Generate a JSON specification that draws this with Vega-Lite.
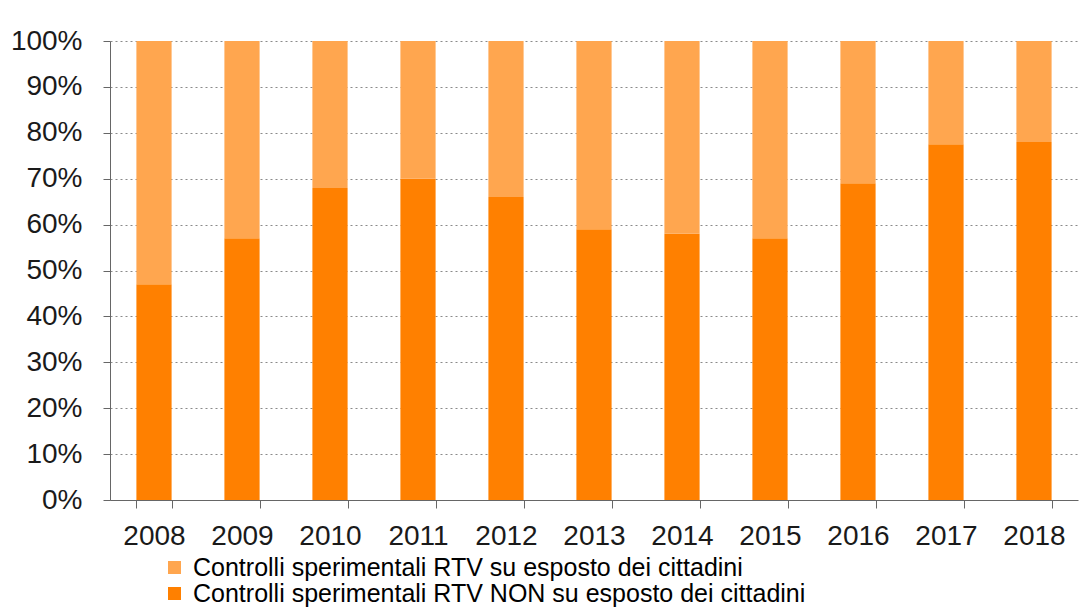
{
  "$schema": "https://vega.github.io/schema/vega-lite/v6.json",
  "width": 968,
  "height": 459,
  "autosize": {"type": "none"},
  "padding": {"left": 110, "top": 41, "right": 10, "bottom": 112},
  "background": "white",
  "data": {
    "values": [
      {"anno": "2008", "serie": "Controlli sperimentali RTV NON su esposto dei cittadini", "quota": 47},
      {"anno": "2008", "serie": "Controlli sperimentali RTV su esposto dei cittadini", "quota": 53},
      {"anno": "2009", "serie": "Controlli sperimentali RTV NON su esposto dei cittadini", "quota": 57},
      {"anno": "2009", "serie": "Controlli sperimentali RTV su esposto dei cittadini", "quota": 43},
      {"anno": "2010", "serie": "Controlli sperimentali RTV NON su esposto dei cittadini", "quota": 68},
      {"anno": "2010", "serie": "Controlli sperimentali RTV su esposto dei cittadini", "quota": 32},
      {"anno": "2011", "serie": "Controlli sperimentali RTV NON su esposto dei cittadini", "quota": 70},
      {"anno": "2011", "serie": "Controlli sperimentali RTV su esposto dei cittadini", "quota": 30},
      {"anno": "2012", "serie": "Controlli sperimentali RTV NON su esposto dei cittadini", "quota": 66},
      {"anno": "2012", "serie": "Controlli sperimentali RTV su esposto dei cittadini", "quota": 34},
      {"anno": "2013", "serie": "Controlli sperimentali RTV NON su esposto dei cittadini", "quota": 59},
      {"anno": "2013", "serie": "Controlli sperimentali RTV su esposto dei cittadini", "quota": 41},
      {"anno": "2014", "serie": "Controlli sperimentali RTV NON su esposto dei cittadini", "quota": 58},
      {"anno": "2014", "serie": "Controlli sperimentali RTV su esposto dei cittadini", "quota": 42},
      {"anno": "2015", "serie": "Controlli sperimentali RTV NON su esposto dei cittadini", "quota": 57},
      {"anno": "2015", "serie": "Controlli sperimentali RTV su esposto dei cittadini", "quota": 43},
      {"anno": "2016", "serie": "Controlli sperimentali RTV NON su esposto dei cittadini", "quota": 69},
      {"anno": "2016", "serie": "Controlli sperimentali RTV su esposto dei cittadini", "quota": 31},
      {"anno": "2017", "serie": "Controlli sperimentali RTV NON su esposto dei cittadini", "quota": 77.5},
      {"anno": "2017", "serie": "Controlli sperimentali RTV su esposto dei cittadini", "quota": 22.5},
      {"anno": "2018", "serie": "Controlli sperimentali RTV NON su esposto dei cittadini", "quota": 78},
      {"anno": "2018", "serie": "Controlli sperimentali RTV su esposto dei cittadini", "quota": 22}
    ]
  },
  "mark": {"type": "bar"},
  "encoding": {
    "x": {
      "field": "anno",
      "type": "ordinal",
      "scale": {"paddingInner": 0.6, "paddingOuter": 0.3},
      "axis": {
        "title": null,
        "labelAngle": 0,
        "tickBand": "extent",
        "tickSize": 8,
        "tickColor": "#666666",
        "domainColor": "#666666",
        "labelFont": "Liberation Sans",
        "labelFontSize": 28,
        "labelColor": "#1a1a1a",
        "labelPadding": 14,
        "grid": false
      }
    },
    "y": {
      "field": "quota",
      "type": "quantitative",
      "stack": "normalize",
      "scale": {"domain": [0, 1]},
      "axis": {
        "title": null,
        "values": [0, 0.1, 0.2, 0.3, 0.4, 0.5, 0.6, 0.7, 0.8, 0.9, 1],
        "format": ".0%",
        "grid": true,
        "gridDash": [2, 3],
        "gridColor": "#8a8a8a",
        "gridWidth": 1,
        "tickSize": 7,
        "tickColor": "#666666",
        "domainColor": "#666666",
        "labelFont": "Liberation Sans",
        "labelFontSize": 28,
        "labelColor": "#1a1a1a",
        "labelPadding": 21
      }
    },
    "color": {
      "field": "serie",
      "type": "nominal",
      "scale": {
        "domain": [
          "Controlli sperimentali RTV su esposto dei cittadini",
          "Controlli sperimentali RTV NON su esposto dei cittadini"
        ],
        "range": ["#FFA64F", "#FF8000"]
      },
      "legend": {
        "title": null,
        "orient": "none",
        "legendX": 52,
        "legendY": 514,
        "direction": "vertical",
        "padding": 0,
        "symbolType": "square",
        "symbolSize": 169,
        "symbolStrokeWidth": 0,
        "labelFont": "Liberation Sans",
        "labelFontSize": 25,
        "labelColor": "#000000",
        "labelOffset": 6,
        "labelLimit": 1000,
        "rowPadding": 0
      }
    },
    "order": {"field": "serie", "sort": "ascending"}
  },
  "config": {
    "view": {"stroke": null}
  }
}
